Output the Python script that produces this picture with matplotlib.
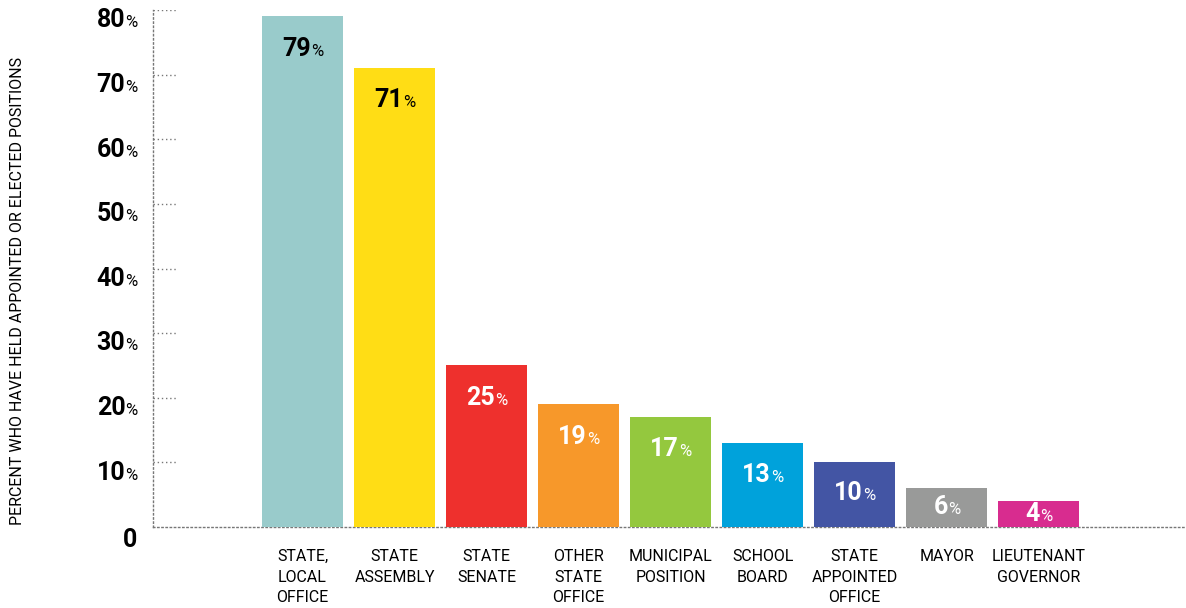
import matplotlib
matplotlib.use("Agg")
import matplotlib.pyplot as plt
from matplotlib.offsetbox import TextArea, HPacker, AnnotationBbox

# data
categories = ["STATE,\nLOCAL\nOFFICE", "STATE\nASSEMBLY", "STATE\nSENATE",
              "OTHER\nSTATE\nOFFICE", "MUNICIPAL\nPOSITION", "SCHOOL\nBOARD",
              "STATE\nAPPOINTED\nOFFICE", "MAYOR", "LIEUTENANT\nGOVERNOR"]
values = [79, 71, 25, 19, 17, 13, 10, 6, 4]
colors = ["#99cbcb", "#ffdd15", "#ee302d", "#f7982a", "#94c83e",
          "#00a2db", "#4355a4", "#999a99", "#d82c8f"]
label_colors = ["black", "black", "white", "white", "white",
                "white", "white", "white", "white"]
yticks = [0, 10, 20, 30, 40, 50, 60, 70, 80]

FONT = ["Roboto", "DejaVu Sans"]
DOT = (0, (1, 2))

fig = plt.figure(figsize=(11.86, 6.08), dpi=100)
ax = fig.add_axes([153/1186, 81/608, 1 - 153/1186, 517/608])

x = list(range(len(values)))
ax.bar(x, values, width=0.88, color=colors, zorder=3)
ax.set_xlim(-1.625, 9.60)
ax.set_ylim(0, 80)

for s in ["top", "right"]:
    ax.spines[s].set_visible(False)
for s in ["left", "bottom"]:
    ax.spines[s].set_linestyle(DOT)
    ax.spines[s].set_color("#777777")
    ax.spines[s].set_linewidth(1)

# short dotted ticks
ax.hlines(yticks[1:], -1.625, -1.36, colors="#777777", linestyles=DOT, linewidth=1)

ax.set_xticks([])
ax.set_yticks([])

# y tick labels: bold number + small %
for t in yticks:
    parts = [TextArea(str(t), textprops=dict(fontsize=18, fontweight="bold", family=FONT))]
    if t > 0:
        parts.append(TextArea("%", textprops=dict(fontsize=12, family=FONT)))
    box = HPacker(children=parts, align="baseline", pad=0, sep=0)
    yoff = -1.6 if t > 0 else -2.0
    ab = AnnotationBbox(box, (-0.015, t + yoff), xycoords=("axes fraction", "data"),
                        box_alignment=(1, 0.5), frameon=False, annotation_clip=False,
                        pad=0)
    ax.add_artist(ab)

# value labels inside the bars
for i, v in enumerate(values):
    c = label_colors[i]
    parts = [TextArea(str(v), textprops=dict(fontsize=18, fontweight="bold", color=c, family=FONT)),
             TextArea("%", textprops=dict(fontsize=12, color=c, family=FONT))]
    box = HPacker(children=parts, align="baseline", pad=0, sep=0)
    y = v - min(5.0, v * 0.48)
    ab = AnnotationBbox(box, (i, y), xycoords="data", box_alignment=(0.5, 0.5),
                        frameon=False, zorder=5, pad=0)
    ax.add_artist(ab)

# category labels below
for i, c in enumerate(categories):
    ax.text(i, -3.4, c, ha="center", va="top", fontsize=11.5, family=FONT,
            linespacing=1.48, clip_on=False)

fig.text(18/1186, 1 - 291/608, "PERCENT WHO HAVE HELD APPOINTED OR ELECTED POSITIONS",
         rotation=90, ha="center", va="center", fontsize=11.5, family=FONT)

fig.savefig("out.png", dpi=100)
